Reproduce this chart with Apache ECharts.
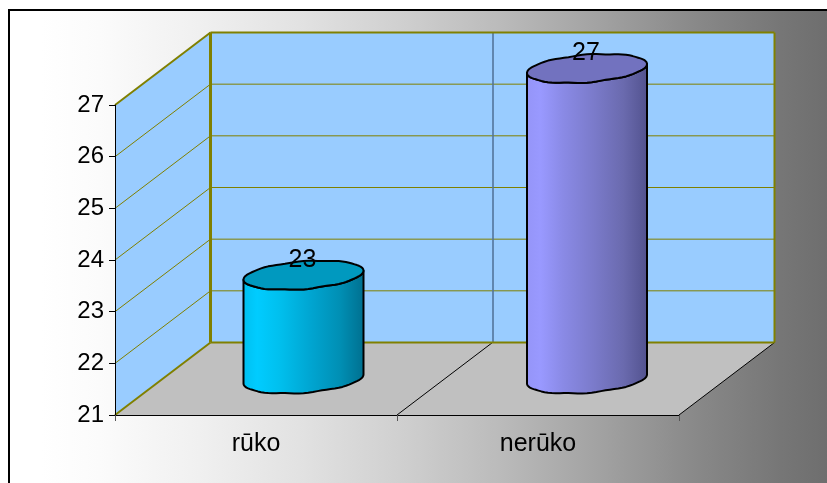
<!DOCTYPE html>
<html>
<head>
<meta charset="utf-8">
<style>html,body{margin:0;padding:0;background:#fff;overflow:hidden}#c{width:827px;height:483px}</style>
<script src="https://cdn.jsdelivr.net/npm/echarts@6/dist/echarts.min.js"></script>
</head>
<body>
<div id="c"></div>
<script>
const categories = ['rūko', 'nerūko'];
const values = [23, 27];
const yTicks = [21, 22, 23, 24, 25, 26, 27];
const sideStops = [
  [[0, '#00BFEF'], [0.12, '#00CCFF'], [0.3, '#00C0EE'], [0.55, '#00A6D2'], [0.8, '#008FB4'], [1, '#006F8F']],
  [[0, '#9595F8'], [0.12, '#9999FF'], [0.3, '#8A8AE6'], [0.55, '#7B7BCB'], [0.8, '#6A6AAE'], [1, '#52528E']]
];
const topColors = ['#0099BF', '#7272BF'];

const DX = 95.5, DY = -72.5, FONT = 'Liberation Sans, Arial, sans-serif', FS = 25;
const OLIVE = '#808000', WALL = '#99CCFF', FLOOR = '#C0C0C0';

function renderWalls(params, api) {
  const cs = params.coordSys;
  const L = cs.x, R = cs.x + cs.width, T = cs.y, B = cs.y + cs.height;
  const band = api.size([1, 0])[0];
  const kids = [];
  const poly = (pts, fill) => kids.push({type: 'polygon', shape: {points: pts}, style: {fill: fill, stroke: null}});
  const line = (x1, y1, x2, y2, c, w) => kids.push({type: 'line', shape: {x1, y1, x2, y2}, style: {stroke: c, lineWidth: w}});
  poly([[L + DX, T + DY], [R + DX, T + DY], [R + DX, B + DY], [L + DX, B + DY]], WALL);
  poly([[L, T], [L + DX, T + DY], [L + DX, B + DY], [L, B]], WALL);
  poly([[L, B], [L + DX, B + DY], [R + DX, B + DY], [R, B]], FLOOR);
  yTicks.forEach(t => {
    const y = api.coord([0, t])[1];
    if (t !== yTicks[0] && t !== yTicks[yTicks.length - 1]) {
      line(L, y, L + DX, y + DY, OLIVE, 1);
      line(L + DX, y + DY, R + DX, y + DY, OLIVE, 1);
    }
  });
  const midX = L + band;
  line(midX + DX + 0.5, T + DY, midX + DX + 0.5, B + DY, '#4F6F94', 1.5);
  line(midX, B, midX + DX, B + DY, '#000', 1);
  line(R, B, R + DX, B + DY, '#000', 1);
  line(L, T, L + DX, T + DY, OLIVE, 2);
  line(L, B, L + DX, B + DY, OLIVE, 2);
  line(L + DX, T + DY, R + DX, T + DY, OLIVE, 2);
  line(L + DX, B + DY, R + DX, B + DY, OLIVE, 2);
  line(R + DX, T + DY, R + DX, B + DY, OLIVE, 2);
  line(L + DX, T + DY, L + DX, B + DY, OLIVE, 3);
  return {type: 'group', children: kids};
}

// slightly wavy outline, as the faceted cylinder in the reference has
function ellipsePt(cx, cy, th) {
  const wob = 0.45 * Math.sin(th * 9) * Math.abs(Math.sin(th));
  return [cx + 60 * Math.cos(th), cy - 4.5 * Math.cos(th) + 13.8 * Math.sin(th) + wob];
}

function renderCylinder(params, api) {
  const i = api.value(0), v = api.value(1);
  const topP = api.coord([i, v]), botP = api.coord([i, yTicks[0]]);
  const cx = topP[0] + DX / 2 - 0.25 + i * 1.5, ty = topP[1] + DY / 2 - 0.25, by = botP[1] + DY / 2 + 0.25;
  const N = 40;
  const outline = [], top = [];
  for (let k = 0; k <= N; k++) outline.push(ellipsePt(cx, by, Math.PI * k / N));
  for (let k = N; k >= 0; k--) outline.push(ellipsePt(cx, ty, Math.PI * k / N));
  for (let k = 0; k < 2 * N; k++) top.push(ellipsePt(cx, ty, Math.PI * k / N));
  return {
    type: 'group',
    children: [
      {type: 'polygon', shape: {points: outline}, style: {
        fill: new echarts.graphic.LinearGradient(0, 0, 1, 0, sideStops[i].map(s => ({offset: s[0], color: s[1]}))),
        stroke: '#000', lineWidth: 2, lineJoin: 'round'}},
      {type: 'polygon', shape: {points: top}, style: {fill: topColors[i], stroke: '#000', lineWidth: 2, lineJoin: 'round'}},
      {type: 'text', style: {text: String(v), x: cx - 1, y: ty - 15, fill: '#000', font: FS + 'px ' + FONT, align: 'center', verticalAlign: 'middle'}}
    ]
  };
}

const chart = echarts.init(document.getElementById('c'), null, {renderer: 'canvas', width: 827, height: 483});
chart.setOption({
  animation: false,
  backgroundColor: '#fff',
  graphic: [{
    type: 'rect', z: -10, silent: true,
    shape: {x: 9, y: 10, width: 830, height: 490},
    style: {
      fill: new echarts.graphic.LinearGradient(0, 0, 1, 0, [
        {offset: 0, color: '#FFFFFF'}, {offset: 0.04, color: '#FFFFFF'}, {offset: 0.11, color: '#FBFBFB'},
        {offset: 0.23, color: '#F0F0F0'}, {offset: 0.35, color: '#E2E2E2'}, {offset: 0.47, color: '#D0D0D0'},
        {offset: 0.59, color: '#BBBBBB'}, {offset: 0.71, color: '#A2A2A2'}, {offset: 0.83, color: '#888888'},
        {offset: 0.93, color: '#767676'}, {offset: 1, color: '#6C6C6C'}
      ]),
      stroke: '#000', lineWidth: 2
    }
  }],
  grid: {left: 115, right: 148, top: 105, bottom: 68, containLabel: false},
  xAxis: {
    type: 'category', data: categories, z: 5,
    axisLine: {show: true, lineStyle: {color: '#000', width: 1}},
    axisTick: {show: true, length: 6, alignWithLabel: false, lineStyle: {color: '#555', width: 1}},
    axisLabel: {color: '#000', fontSize: FS, fontFamily: FONT, margin: 17},
    splitLine: {show: false}
  },
  yAxis: {
    type: 'value', min: yTicks[0], max: yTicks[yTicks.length - 1], interval: 1, z: 5,
    axisLine: {show: true, lineStyle: {color: '#000', width: 1}},
    axisTick: {show: true, length: 6, lineStyle: {color: '#000', width: 1}},
    axisLabel: {color: '#000', fontSize: 24, fontFamily: FONT, margin: 11},
    splitLine: {show: false}
  },
  series: [
    {type: 'custom', name: 'walls', z: 1, silent: true, clip: false, renderItem: renderWalls, data: [[0, yTicks[0]]], encode: {x: 0, y: 1}},
    {type: 'custom', name: 'values', z: 6, silent: true, clip: false, renderItem: renderCylinder, data: values.map((v, i) => [i, v]), encode: {x: 0, y: 1}}
  ]
});
</script>
</body>
</html>
